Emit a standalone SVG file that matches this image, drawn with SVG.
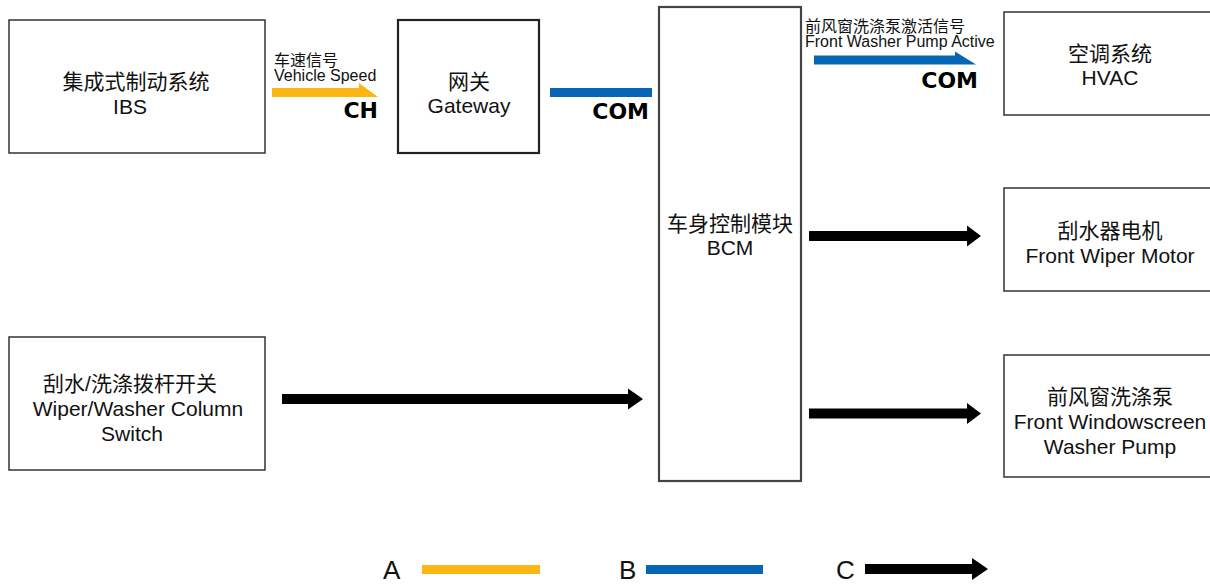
<svg xmlns="http://www.w3.org/2000/svg" width="1210" height="585" viewBox="0 0 1210 585">
<style>
.box{fill:#fff;stroke:#333;stroke-width:1.5}
.boxb{fill:#fff;stroke:#222;stroke-width:2.2}
.t{font-family:"Liberation Sans","Noto Sans CJK SC",sans-serif;font-size:21px;fill:#111;text-anchor:middle}
.s{font-family:"Liberation Sans","Noto Sans CJK SC",sans-serif;font-size:16px;fill:#111}
.bus{font-family:"DejaVu Sans",sans-serif;font-weight:bold;font-size:22px;fill:#000;text-anchor:end}
.lg{font-family:"Liberation Sans",sans-serif;font-size:26px;fill:#111}
.y{fill:#FBB614}
.b{fill:#0765B5}
.k{fill:#000}
</style>
<rect width="1210" height="585" fill="#fff"/>
<g id="ibs">
<rect class="box" x="9" y="20" width="256" height="133"/>
<text class="t" x="136" y="89">集成式制动系统</text>
<text class="t" x="130" y="114">IBS</text>
</g>
<g id="gateway">
<rect class="boxb" x="398" y="20" width="141" height="133"/>
<text class="t" x="469" y="89">网关</text>
<text class="t" x="469" y="113">Gateway</text>
</g>
<g id="bcm">
<rect class="boxb" x="659" y="7" width="142" height="474" style="stroke:#444"/>
<text class="t" x="730" y="231">车身控制模块</text>
<text class="t" x="730" y="255">BCM</text>
</g>
<g id="hvac">
<rect class="box" x="1004" y="12" width="212" height="103"/>
<text class="t" x="1110" y="61">空调系统</text>
<text class="t" x="1110" y="85">HVAC</text>
</g>
<g id="wiper-motor">
<rect class="box" x="1004" y="188" width="212" height="103"/>
<text class="t" x="1110" y="238">刮水器电机</text>
<text class="t" x="1110" y="263">Front Wiper Motor</text>
</g>
<g id="washer-pump">
<rect class="box" x="1004" y="355" width="212" height="122"/>
<text class="t" x="1110" y="404">前风窗洗涤泵</text>
<text class="t" x="1110" y="429">Front Windowscreen</text>
<text class="t" x="1110" y="454">Washer Pump</text>
</g>
<g id="switch">
<rect class="box" x="9" y="337" width="256" height="133"/>
<text class="t" x="130" y="391">刮水/洗涤拨杆开关</text>
<text class="t" x="138" y="416">Wiper/Washer Column</text>
<text class="t" x="132" y="441">Switch</text>
</g>
<g id="connectors">
<polygon class="y" points="272,88 359,88 359,83 378,97 272,97"/>
<text class="s" x="274" y="66">车速信号</text>
<text class="s" x="274" y="81">Vehicle Speed</text>
<text class="bus" x="378" y="118">CH</text>
<rect class="b" x="550" y="88" width="102" height="9"/>
<text class="bus" x="649" y="119">COM</text>
<polygon class="b" points="814,55.5 955,55.5 955,51.5 976,64.5 814,64.5"/>
<text class="s" x="805" y="32">前风窗洗涤泵激活信号</text>
<text class="s" x="805" y="47">Front Washer Pump Active</text>
<text class="bus" x="978" y="88">COM</text>
<polygon class="k" points="809,231 967,231 967,225.5 981,236 967,246.5 967,241 809,241"/>
<polygon class="k" points="809,408.5 967,408.5 967,403 981,413.5 967,424 967,418.5 809,418.5"/>
<polygon class="k" points="282,394 628,394 628,388.5 643,399 628,409.5 628,404 282,404"/>
</g>
<g id="legend">
<text class="lg" x="383" y="579">A</text>
<rect class="y" x="422" y="565" width="118" height="9"/>
<text class="lg" x="619" y="579">B</text>
<rect class="b" x="646" y="565" width="117" height="9"/>
<text class="lg" x="836" y="579">C</text>
<polygon class="k" points="865,564 972,564 972,558 988,569 972,580 972,574 865,574"/>
</g>
</svg>
